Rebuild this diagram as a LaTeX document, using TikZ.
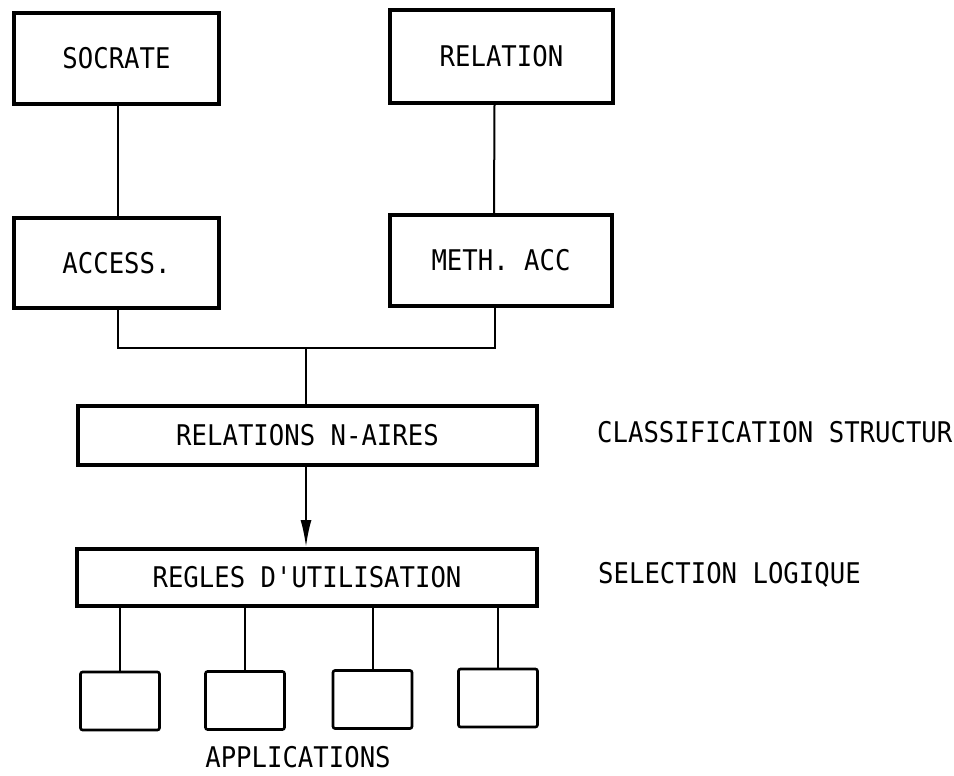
\documentclass[tikz,border=0pt]{standalone}
\usepackage{fontspec}
\usetikzlibrary{arrows.meta}
\newfontfamily\twfont[FakeStretch=0.9]{DejaVu Sans Mono}
\begin{document}
\begin{tikzpicture}[x=1pt,y=-1pt,
  bigbox/.style={draw=black,line width=4pt,inner sep=0pt,font=\twfont\fontsize{28.5}{30}\selectfont},
  appbox/.style={draw=black,line width=2.6pt,rounded corners=2pt,inner sep=0pt,minimum width=79pt,minimum height=58pt},
  conn/.style={draw=black,line width=2pt},
  sidelabel/.style={anchor=west,inner sep=0pt,font=\twfont\fontsize{28.5}{30}\selectfont}]
\useasboundingbox (0,0) rectangle (954,776);
\fill[white] (0,0) rectangle (954,776);
% top boxes
\node[bigbox,minimum width=205pt,minimum height=91pt] (soc) at (116.5,58.5) {SOCRATE};
\node[bigbox,minimum width=223pt,minimum height=93pt] (rel) at (501.5,56.5) {RELATION};
\node[bigbox,minimum width=205pt,minimum height=90pt] (acc) at (116.5,263) {ACCESS.};
\node[bigbox,minimum width=222pt,minimum height=91pt] (meth) at (501,260.5) {METH. ACC};
% middle boxes
\node[bigbox,minimum width=459pt,minimum height=59pt] (rn) at (307.5,435.5) {RELATIONS N-AIRES};
\node[bigbox,minimum width=460pt,minimum height=57pt] (rg) at (307,577.5) {REGLES D'UTILISATION};
% application boxes
\node[appbox] (a1) at (120,701) {};
\node[appbox] (a2) at (245,700.5) {};
\node[appbox] (a3) at (372.5,699.5) {};
\node[appbox] (a4) at (498,698) {};
% labels
\node[sidelabel] (cls) at (597,432) {CLASSIFICATION STRUCTUR};
\node[sidelabel] (sel) at (598,575) {SELECTION LOGIQUE};
\node[inner sep=0pt,font=\twfont\fontsize{28.5}{30}\selectfont] (apps) at (298,757) {APPLICATIONS};
% connectors
\coordinate (j) at (306,348);
\draw[conn] ([xshift=1.5pt]soc.south) -- ([xshift=1.5pt]acc.north);
\draw[conn] ([xshift=-7pt]rel.south) -- ([xshift=-7pt]meth.north);
\draw[conn] ([xshift=1.5pt]acc.south) |- (j) -| ([xshift=-6pt]meth.south);
\draw[conn] (j) -- (j |- rn.north);
\draw[conn,-{Latex[length=27pt,width=11pt]}] (rn.south -| j) -- (rg.north -| j);
\draw[conn] (rg.south -| a1.north) -- (a1.north);
\draw[conn] (rg.south -| a2.north) -- (a2.north);
\draw[conn] (rg.south -| a3.north) -- (a3.north);
\draw[conn] (rg.south -| a4.north) -- (a4.north);
\end{tikzpicture}
\end{document}
